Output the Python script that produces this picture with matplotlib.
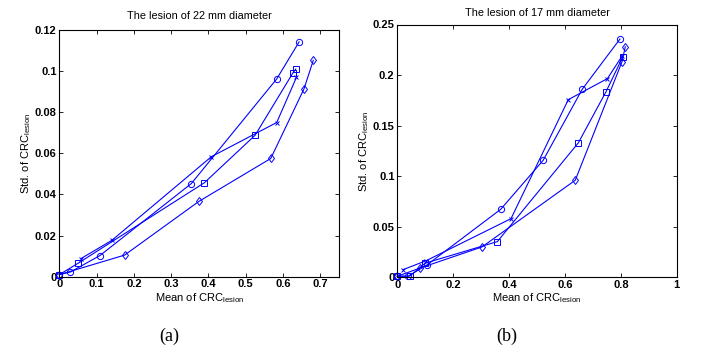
import matplotlib
matplotlib.use("Agg")
import matplotlib.pyplot as plt

plt.rcParams['font.family'] = ['Liberation Sans', 'DejaVu Sans']
plt.rcParams['mathtext.fontset'] = 'custom'
plt.rcParams['mathtext.rm'] = 'Liberation Sans'
plt.rcParams['mathtext.it'] = 'Liberation Sans:italic'

# ---- (a) lesion 22 mm ----
a_circle_x = [0.0, 0.030, 0.109, 0.354, 0.583, 0.643]
a_circle_y = [0.001, 0.0023, 0.0103, 0.0453, 0.0962, 0.1142]
a_square_x = [0.0, 0.051, 0.389, 0.525, 0.626, 0.634]
a_square_y = [0.001, 0.0066, 0.0457, 0.0688, 0.0990, 0.1010]
a_cross_x = [0.058, 0.141, 0.408, 0.583, 0.636]
a_cross_y = [0.0088, 0.0177, 0.0584, 0.0750, 0.0970]
a_diam_x = [0.0, 0.175, 0.374, 0.567, 0.656, 0.681]
a_diam_y = [0.001, 0.0105, 0.0366, 0.0575, 0.0913, 0.1052]

# ---- (b) lesion 17 mm ----
b_circle_x = [0.0, 0.038, 0.105, 0.370, 0.522, 0.662, 0.797]
b_circle_y = [0.001, 0.001, 0.012, 0.0672, 0.1157, 0.186, 0.2357]
b_square_x = [0.0, 0.045, 0.100, 0.358, 0.648, 0.747, 0.807]
b_square_y = [0.001, 0.0013, 0.0140, 0.0353, 0.1330, 0.1835, 0.2180]
b_cross_x = [0.021, 0.104, 0.407, 0.612, 0.752, 0.805]
b_cross_y = [0.0076, 0.0165, 0.0580, 0.1757, 0.1965, 0.2190]
b_diam_x = [0.0, 0.080, 0.303, 0.637, 0.804, 0.816]
b_diam_y = [0.001, 0.0090, 0.0300, 0.0960, 0.2130, 0.2280]

a_xticks = [0, 0.1, 0.2, 0.3, 0.4, 0.5, 0.6, 0.7]
a_yticks = [0, 0.02, 0.04, 0.06, 0.08, 0.1, 0.12]
b_xticks = [0, 0.2, 0.4, 0.6, 0.8, 1]
b_yticks = [0, 0.05, 0.1, 0.15, 0.2, 0.25]

W, H = 706, 356
fig = plt.figure(figsize=(W / 100, H / 100), dpi=100)
BLUE = '#0000ff'


def px_axes(x0, y0, x1, y1):
    return fig.add_axes([x0 / W, 1 - y1 / H, (x1 - x0) / W, (y1 - y0) / H])


def style(ax, xlim, ylim, xt, yt, title, title_y):
    ax.set_xlim(*xlim)
    ax.set_ylim(*ylim)
    ax.set_xticks(xt)
    ax.set_yticks(yt)
    ax.set_xticklabels([f"{v:g}" for v in xt], fontweight='bold', fontsize=8)
    ax.set_yticklabels([f"{v:g}" for v in yt], fontweight='bold', fontsize=8)
    ax.tick_params(direction='in', top=True, right=True, length=3, width=0.6, pad=2)
    for s in ax.spines.values():
        s.set_linewidth(0.8)
    ax.set_xlabel(r'Mean of CRC$_{\mathrm{lesion}}$', fontsize=8, labelpad=1)
    ax.set_ylabel(r'Std. of CRC$_{\mathrm{lesion}}$', fontsize=8, labelpad=1)
    ax.set_title(title, fontsize=7.8, pad=title_y)


def series(ax, x, y, m, ms):
    ax.plot(x, y, color=BLUE, lw=0.8, marker=m, ms=ms, mfc='none', mec=BLUE, mew=0.7, clip_on=False)


ax1 = px_axes(59.3, 30, 339, 276.7)
series(ax1, a_circle_x, a_circle_y, 'o', 4.5)
series(ax1, a_square_x, a_square_y, 's', 3.8)
series(ax1, a_cross_x, a_cross_y, 'x', 2.5)
series(ax1, a_diam_x, a_diam_y, 'd', 4.5)
style(ax1, (0, 0.75), (0, 0.12), a_xticks, a_yticks, 'The lesion of 22 mm diameter', 8)

ax2 = px_axes(397.3, 24.5, 676.7, 277.3)
series(ax2, b_circle_x, b_circle_y, 'o', 4.5)
series(ax2, b_square_x, b_square_y, 's', 3.8)
series(ax2, b_cross_x, b_cross_y, 'x', 2.5)
series(ax2, b_diam_x, b_diam_y, 'd', 4.5)
style(ax2, (0, 1), (0, 0.25), b_xticks, b_yticks, 'The lesion of 17 mm diameter', 6)

fig.text(169 / W, 1 - 336 / H, '(a)', family='Liberation Serif', fontsize=13, ha='center', va='center')
fig.text(507 / W, 1 - 336 / H, '(b)', family='Liberation Serif', fontsize=13, ha='center', va='center')

fig.savefig('out.png', dpi=100)
